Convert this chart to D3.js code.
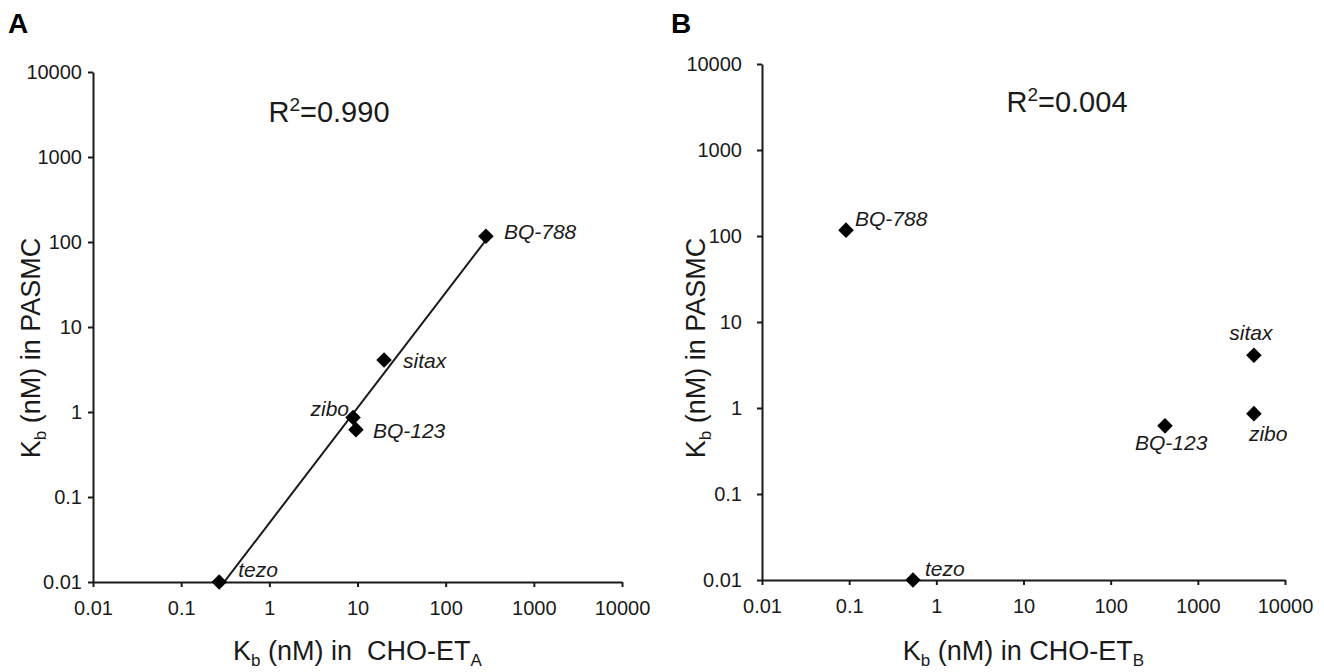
<!DOCTYPE html>
<html>
<head>
<meta charset="utf-8">
<script src="https://cdn.jsdelivr.net/npm/d3@7"></script>
<style>
body { margin: 0; background: #fff; }
svg { font-family: 'Liberation Sans', Arial, sans-serif; }
text { white-space: pre; }
</style>
</head>
<body>
<div class="chart"></div>
<script>
var compounds = ['BQ-788', 'sitax', 'zibo', 'BQ-123', 'tezo']
var kbPASMC = [117, 4.1, 0.86, 0.62, 0.01]
var kbETA = [286, 20, 8.9, 9.6, 0.27]
var kbETB = [0.092, 4400, 4400, 420, 0.54]
var decades = [0.01, 0.1, 1, 10, 100, 1000, 10000]
var decadeLabels = ['0.01', '0.1', '1', '10', '100', '1000', '10000']
var r2Values = ['0.990', '0.004']

var width = 1324
var height = 672
var ink = '#1a1a1a'

var svg = d3.select('.chart')
  .append('svg')
  .attr('width', width)
  .attr('height', height)

// label placement: [dx, dy, anchor] relative to the marker
var panels = [
  {letter: 'A', receptor: 'A', xs: kbETA, r2: r2Values[0], fit: true,
   left: 93, right: 622, top: 72, bottom: 582, yPad: 6,
   letterX: 8, r2X: 329, r2Y: 122, yTitleX: 40, gap: '  ',
   labels: {'BQ-788': [18, 3, 'start'], 'sitax': [19, 8, 'start'], 'zibo': [-4, -2, 'end'],
            'BQ-123': [17, 8, 'start'], 'tezo': [19, -5, 'start']}},
  {letter: 'B', receptor: 'B', xs: kbETB, r2: r2Values[1], fit: false,
   left: 762, right: 1285, top: 64, bottom: 580, yPad: 15,
   letterX: 671, r2X: 1067, r2Y: 112, yTitleX: 705, gap: ' ',
   labels: {'BQ-788': [9, -4, 'start'], 'sitax': [-3, -15, 'middle'], 'zibo': [-5, 27, 'start'],
            'BQ-123': [-30, 24, 'start'], 'tezo': [12, -4, 'start']}}
]

function styleAxis(g) {
  g.attr('font-family', null).attr('font-size', null)
  g.select('.domain').attr('stroke', ink).attr('stroke-width', 2)
  g.selectAll('.tick line').attr('stroke', ink).attr('stroke-width', 2)
  g.selectAll('.tick text').attr('fill', ink).style('font-size', '20px')
}

function drawPanel(p, idx) {
  var x = d3.scaleLog().domain([0.01, 10000]).range([p.left, p.right])
  var y = d3.scaleLog().domain([0.01, 10000]).range([p.bottom, p.top])
  var fmt = function(d, i) { return decadeLabels[i] }

  var g = svg.append('g')

  g.append('g')
    .attr('transform', 'translate(0,' + p.bottom + ')')
    .call(d3.axisBottom(x).tickValues(decades).tickFormat(fmt).tickSize(5).tickSizeOuter(0).tickPadding(14))
    .call(styleAxis)

  g.append('g')
    .attr('transform', 'translate(' + p.left + ',0)')
    .call(d3.axisLeft(y).tickValues(decades).tickFormat(fmt).tickSize(5).tickSizeOuter(0).tickPadding(p.yPad))
    .call(styleAxis)

  var pts = compounds.map(function(name, i) { return {name: name, x: p.xs[i], y: kbPASMC[i]} })

  if (p.fit) {
    var lx = pts.map(function(d) { return Math.log10(d.x) })
    var ly = pts.map(function(d) { return Math.log10(d.y) })
    var mx = d3.mean(lx), my = d3.mean(ly)
    var slope = d3.sum(lx, function(v, i) { return (v - mx) * (ly[i] - my) }) /
                d3.sum(lx, function(v) { return (v - mx) * (v - mx) })
    var ends = d3.extent(lx).map(function(v) {
      return [Math.pow(10, v), Math.pow(10, my + slope * (v - mx))]
    })
    svg.append('clipPath').attr('id', 'clip' + idx)
      .append('rect')
      .attr('x', p.left).attr('y', p.top)
      .attr('width', p.right - p.left).attr('height', p.bottom - p.top)
    g.append('line')
      .attr('clip-path', 'url(#clip' + idx + ')')
      .attr('x1', x(ends[0][0])).attr('y1', y(ends[0][1]))
      .attr('x2', x(ends[1][0])).attr('y2', y(ends[1][1]))
      .attr('stroke', ink)
      .attr('stroke-width', 2)
  }

  g.selectAll('path.pt')
    .data(pts)
    .enter().append('path')
    .attr('class', 'pt')
    .attr('d', d3.symbol(d3.symbolSquare, 121))
    .attr('transform', function(d) { return 'translate(' + x(d.x) + ',' + y(d.y) + ') rotate(45)' })
    .attr('fill', '#000')

  g.selectAll('text.lab')
    .data(pts)
    .enter().append('text')
    .attr('class', 'lab')
    .attr('x', function(d) { return x(d.x) + p.labels[d.name][0] })
    .attr('y', function(d) { return y(d.y) + p.labels[d.name][1] })
    .attr('text-anchor', function(d) { return p.labels[d.name][2] })
    .style('font-size', '21px')
    .style('font-style', 'italic')
    .attr('fill', ink)
    .text(function(d) { return d.name })

  // R squared
  var r = g.append('text')
    .attr('x', p.r2X).attr('y', p.r2Y)
    .attr('text-anchor', 'middle')
    .style('font-size', '29px')
    .attr('fill', ink)
  r.append('tspan').text('R')
  r.append('tspan').attr('dy', -11).style('font-size', '19px').text('2')
  r.append('tspan').attr('dy', 11).text('=' + p.r2)

  // panel letter
  g.append('text')
    .attr('x', p.letterX).attr('y', 33)
    .style('font-size', '28px')
    .style('font-weight', 'bold')
    .attr('fill', '#000')
    .text(p.letter)

  // x title
  var xt = g.append('text')
    .attr('x', (p.left + p.right) / 2).attr('y', 660)
    .attr('text-anchor', 'middle')
    .style('font-size', '27px')
    .attr('fill', ink)
  xt.append('tspan').text('K')
  xt.append('tspan').attr('dy', 6).style('font-size', '17px').text('b')
  xt.append('tspan').attr('dy', -6).text(' (nM) in' + p.gap + 'CHO-ET')
  xt.append('tspan').attr('dy', 6).style('font-size', '17px').text(p.receptor)

  // y title
  var yt = g.append('text')
    .attr('transform', 'translate(' + p.yTitleX + ',348) rotate(-90)')
    .attr('text-anchor', 'middle')
    .style('font-size', '27px')
    .attr('fill', ink)
  yt.append('tspan').text('K')
  yt.append('tspan').attr('dy', 6).style('font-size', '17px').text('b')
  yt.append('tspan').attr('dy', -6).text(' (nM) in PASMC')
}

panels.forEach(drawPanel)
</script>
</body>
</html>
